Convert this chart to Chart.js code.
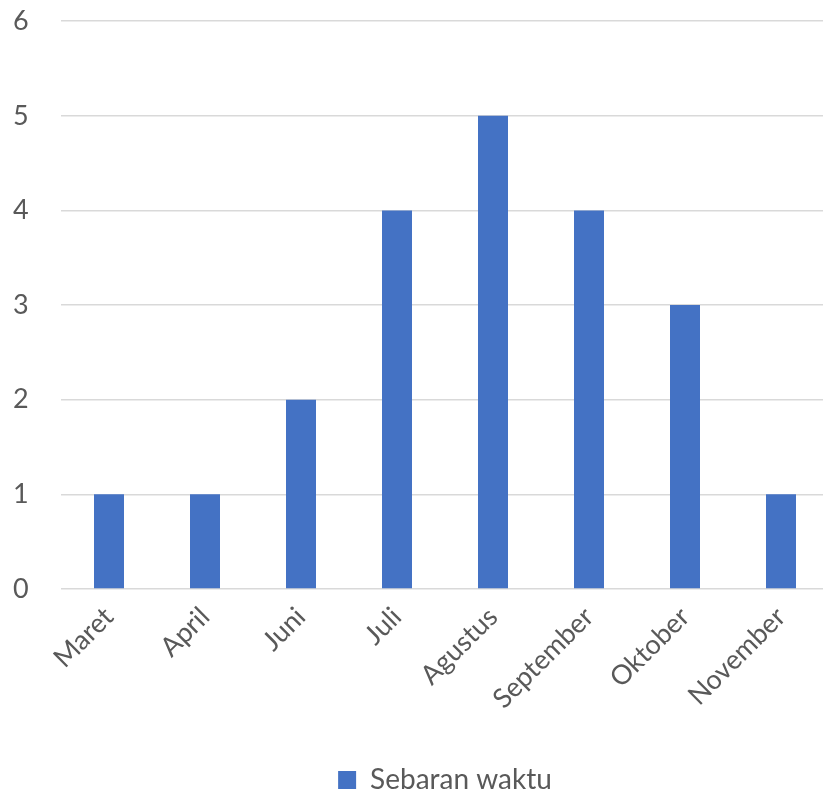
<!DOCTYPE html>
<html>
<head>
<meta charset="utf-8">
<script src="https://cdn.jsdelivr.net/npm/chart.js@4/dist/chart.umd.min.js"></script>
<style>
  html, body { margin: 0; padding: 0; background: #fff; overflow: hidden; }
  #wrap { width: 823px; height: 795px; overflow: hidden; }
</style>
</head>
<body>
<div id="wrap"><canvas id="myChart" width="829" height="795"></canvas></div>
<script>
const months = ['Maret', 'April', 'Juni', 'Juli', 'Agustus', 'September', 'Oktober', 'November']
const counts = [1, 1, 2, 4, 5, 4, 3, 1]
const yTicks = [0, 1, 2, 3, 4, 5, 6]

const textColor = '#595959'
const fontFamily = 'Lato, "Liberation Sans", sans-serif'

// plot area runs a few px past the right edge, like the original
new Chart(document.getElementById('myChart').getContext('2d'), {
  type: 'bar',
  data: {
    labels: months,
    datasets: [
      {
        label: 'Sebaran waktu',
        data: counts,
        backgroundColor: '#4472C4',
        barPercentage: 0.3125,
        categoryPercentage: 1
      }
    ]
  },
  options: {
    responsive: false,
    animation: false,
    layout: { padding: { left: 13, right: 0, top: 0, bottom: -9 } },
    plugins: {
      legend: {
        position: 'bottom',
        fullSize: false,
        labels: {
          color: textColor,
          font: { family: fontFamily, size: 28, lineHeight: 1 },
          boxWidth: 18,
          boxHeight: 18,
          padding: 0
        }
      },
      tooltip: { enabled: false }
    },
    scales: {
      x: {
        grid: { display: false },
        border: { display: false },
        afterFit: s => { s.height = 177 },
        ticks: {
          color: textColor,
          font: { family: fontFamily, size: 27 },
          minRotation: 45,
          maxRotation: 45,
          padding: 4
        }
      },
      y: {
        min: yTicks[0],
        max: yTicks[yTicks.length - 1],
        afterBuildTicks: axis => { axis.ticks = yTicks.map(v => ({ value: v })) },
        afterFit: s => { s.width = 48 },
        grid: { color: '#d9d9d9', lineWidth: 1.6, drawTicks: false },
        border: { display: false },
        ticks: {
          color: textColor,
          font: { family: fontFamily, size: 27 },
          crossAlign: 'far',
          padding: 5
        }
      }
    }
  }
})
</script>
</body>
</html>
